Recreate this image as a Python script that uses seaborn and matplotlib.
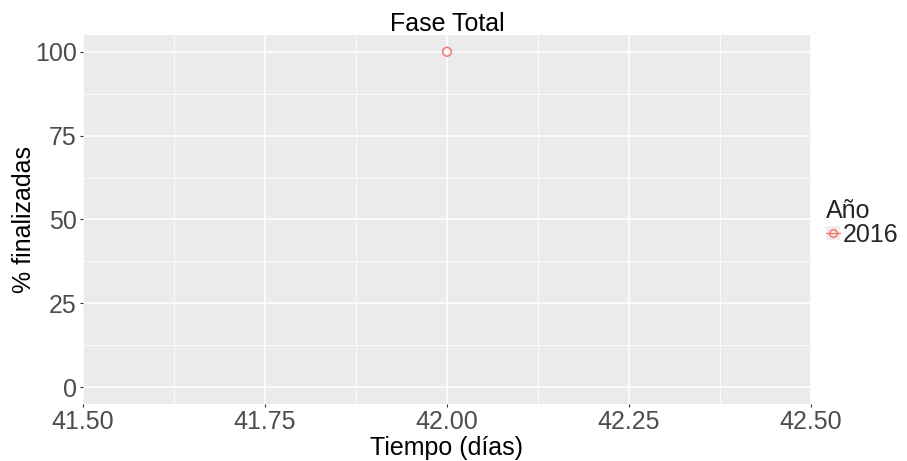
import matplotlib
matplotlib.use("Agg")
import matplotlib.pyplot as plt
import matplotlib.lines as mlines
import matplotlib.patches as mpatches
from matplotlib.legend_handler import HandlerBase
import seaborn as sns
import pandas as pd

# Data
tiempo = [42.0]
finalizadas = [100.0]
anio = ["2016"]

df = pd.DataFrame({"Tiempo": tiempo, "Pct": finalizadas, "Año": anio})

sns.set_theme(style="darkgrid")
plt.rcParams["font.family"] = ["Liberation Sans", "DejaVu Sans"]

fig = plt.figure(figsize=(9.07, 4.61), dpi=100)
ax = fig.add_axes([83 / 907, 1 - 404 / 461, (811 - 83) / 907, (404 - 35) / 461])
ax.set_facecolor("#EBEBEB")

red = "#F8766D"
sns.lineplot(data=df, x="Tiempo", y="Pct", hue="Año", palette=[red], ax=ax,
             legend=False, linewidth=1)
sns.scatterplot(data=df, x="Tiempo", y="Pct", hue="Año", palette=[red], ax=ax,
                legend=False, s=40, marker="o", linewidth=1.1, zorder=5)
# hollow markers
for coll in ax.collections:
    coll.set_facecolor("none")
    coll.set_edgecolor(red)

ax.set_xlim(41.5, 42.5)
ax.set_ylim(-5, 105)
ax.set_xticks([41.5, 41.75, 42.0, 42.25, 42.5])
ax.set_xticklabels(["41.50", "41.75", "42.00", "42.25", "42.50"])
ax.set_yticks([0, 25, 50, 75, 100])
ax.set_xticks([41.625, 41.875, 42.125, 42.375], minor=True)
ax.set_yticks([12.5, 37.5, 62.5, 87.5], minor=True)

ax.grid(which="major", color="white", linewidth=1.1)
ax.grid(which="minor", color="white", linewidth=0.55)
ax.set_axisbelow(True)
for s in ax.spines.values():
    s.set_visible(False)

ax.tick_params(axis="both", which="major", labelsize=18, labelcolor="#4D4D4D",
               length=2.5, width=0.8, color="#333333", pad=2, bottom=True, left=True)
ax.tick_params(axis="both", which="minor", length=0)

ax.set_xlabel("Tiempo (días)", fontsize=18, color="black", labelpad=1)
ax.set_ylabel("% finalizadas", fontsize=18, color="black", labelpad=-1)
ax.set_title("Fase Total", fontsize=18, color="black", pad=3)


class KeyHandler(HandlerBase):
    """Legend key: grey square with a line and a hollow circle."""

    def create_artists(self, legend, orig_handle, xdescent, ydescent,
                       width, height, fontsize, trans):
        size = 14 * 72 / 100
        x0 = -xdescent
        y0 = -ydescent + (height - size) / 2
        bg = mpatches.Rectangle((x0, y0), size, size, facecolor="#EDEDED",
                                edgecolor="none", transform=trans)
        ym = y0 + size / 2
        ln = mlines.Line2D([x0, x0 + size], [ym, ym], color=red, linewidth=1,
                           transform=trans)
        mk = mlines.Line2D([x0 + size / 2], [ym], marker="o", markersize=5.5,
                           markerfacecolor="none", markeredgecolor=red,
                           markeredgewidth=1.1, linestyle="none", transform=trans)
        return [bg, ln, mk]


handle = mlines.Line2D([], [], color=red)
leg = fig.legend([handle], ["2016"], title="Año", loc="upper left",
                 bbox_to_anchor=(826 / 907, 1 - 199 / 461), frameon=False,
                 fontsize=18, title_fontsize=18, handlelength=0.56,
                 handletextpad=0.12, borderpad=0.0, borderaxespad=0.0,
                 labelspacing=0.1, handler_map={mlines.Line2D: KeyHandler()})
leg._legend_box.align = "left"
leg._legend_box.sep = 0

fig.savefig("out.png", dpi=100, facecolor="white")
